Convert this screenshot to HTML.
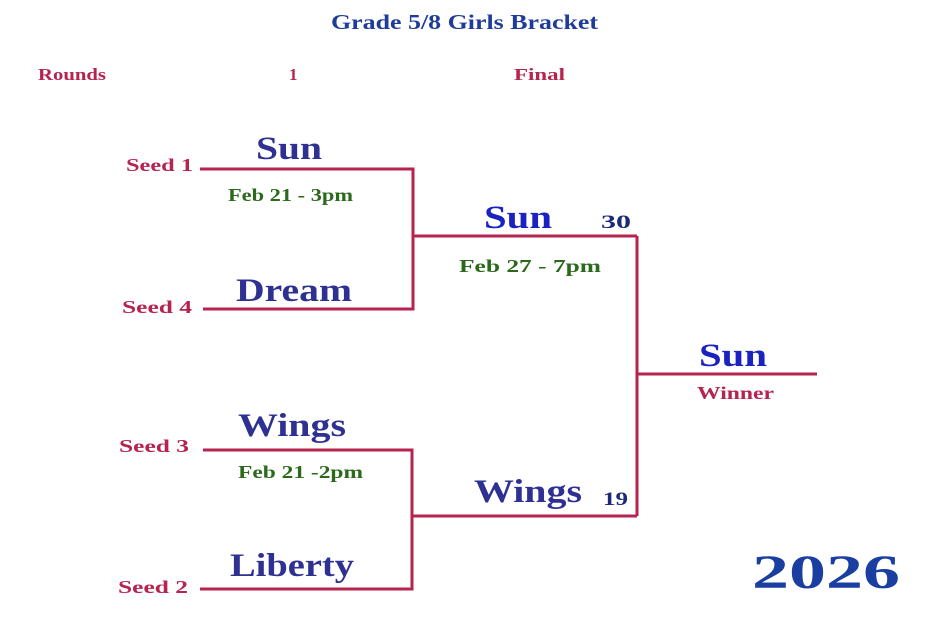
<!DOCTYPE html>
<html><head><meta charset="utf-8"><style>
html,body{margin:0;padding:0;background:#fff;}
svg{display:block;}
text{font-family:"Liberation Serif","DejaVu Serif",serif;font-weight:bold;}
</style></head><body>
<svg width="949" height="633" viewBox="0 0 949 633" xmlns="http://www.w3.org/2000/svg">
<rect width="949" height="633" fill="#fff"/>
<text x="331" y="29" font-size="21" fill="#1f3c99" textLength="267" lengthAdjust="spacingAndGlyphs">Grade 5/8 Girls Bracket</text>
<text x="38" y="80" font-size="17" fill="#b5234e" textLength="68" lengthAdjust="spacingAndGlyphs">Rounds</text>
<text x="289" y="80" font-size="17" fill="#b5234e">1</text>
<text x="514" y="80" font-size="17" fill="#b5234e" textLength="51" lengthAdjust="spacingAndGlyphs">Final</text>
<g stroke="#b5234e" stroke-width="3" fill="none">
<path d="M200 169H413V309H203"/>
<path d="M413 236H637"/>
<path d="M203 450H412V589H200"/>
<path d="M412 516H637"/>
<path d="M637 236V516"/>
<path d="M637 374H817"/>
</g>
<g font-size="18" fill="#b5234e">
<text x="126" y="171" textLength="67" lengthAdjust="spacingAndGlyphs">Seed 1</text>
<text x="122" y="313" textLength="70" lengthAdjust="spacingAndGlyphs">Seed 4</text>
<text x="119" y="452" textLength="70" lengthAdjust="spacingAndGlyphs">Seed 3</text>
<text x="118" y="593" textLength="70" lengthAdjust="spacingAndGlyphs">Seed 2</text>
<text x="697" y="399" textLength="77" lengthAdjust="spacingAndGlyphs">Winner</text>
</g>
<g font-size="33" fill="#2e3192">
<text x="256" y="159" textLength="66" lengthAdjust="spacingAndGlyphs">Sun</text>
<text x="236" y="301" textLength="116" lengthAdjust="spacingAndGlyphs">Dream</text>
<text x="238" y="436" textLength="108" lengthAdjust="spacingAndGlyphs">Wings</text>
<text x="230" y="576" textLength="124" lengthAdjust="spacingAndGlyphs">Liberty</text>
<text x="474" y="502" textLength="108" lengthAdjust="spacingAndGlyphs">Wings</text>
</g>
<g font-size="33" fill="#1a22c0">
<text x="484" y="228" textLength="68" lengthAdjust="spacingAndGlyphs">Sun</text>
<text x="699" y="366" textLength="68" lengthAdjust="spacingAndGlyphs">Sun</text>
</g>
<g font-size="19" fill="#1b2a78">
<text x="601" y="228" textLength="30" lengthAdjust="spacingAndGlyphs">30</text>
<text x="603" y="505" textLength="25" lengthAdjust="spacingAndGlyphs">19</text>
</g>
<g font-size="18" fill="#2a6a1a">
<text x="228" y="201" textLength="125" lengthAdjust="spacingAndGlyphs">Feb 21 - 3pm</text>
<text x="459" y="272" textLength="142" lengthAdjust="spacingAndGlyphs">Feb 27 - 7pm</text>
<text x="238" y="478" textLength="125" lengthAdjust="spacingAndGlyphs">Feb 21 -2pm</text>
</g>
<text x="752" y="588" font-size="48" fill="#1b3fa0" textLength="148" lengthAdjust="spacingAndGlyphs">2026</text>
</svg>
</body></html>
